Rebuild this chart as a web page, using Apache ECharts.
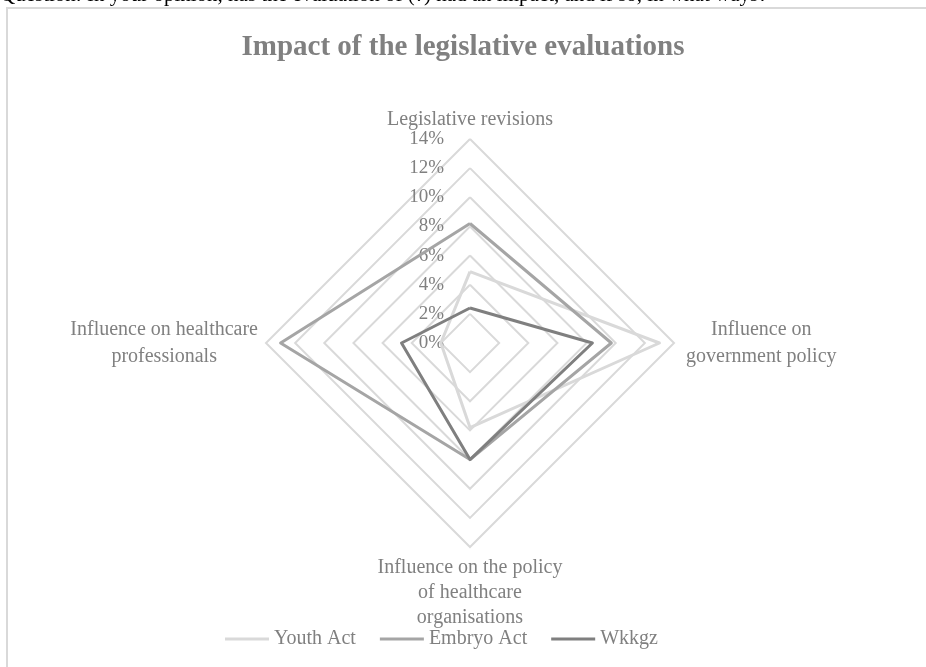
<!DOCTYPE html>
<html>
<head>
<meta charset="utf-8">
<script src="https://cdn.jsdelivr.net/npm/echarts@6/dist/echarts.min.js"></script>
<style>
html,body{margin:0;padding:0;background:#fff;}
#c{width:926px;height:667px;}
</style>
</head>
<body>
<div id="c"></div>
<script>
const indicators = [
  'Legislative revisions',
  'Influence on healthcare professionals',
  'Influence on the policy of healthcare organisations',
  'Influence on government policy'
];
const seriesNames = ['Youth Act', 'Embryo Act', 'Wkkgz'];
const youthAct = [4.9, 2.0, 5.8, 13.0];
const embryoAct = [8.2, 13.0, 8.0, 9.7];
const wkkgz = [2.4, 4.7, 8.0, 8.4];
const maxValue = 14;
const tickStep = 2;

const FONT = '"Liberation Serif", "DejaVu Serif", serif';
const GRAY = '#808080';

const chart = echarts.init(document.getElementById('c'));
const nameFormat = {
  'Legislative revisions': '{t|Legislative revisions}',
  'Influence on healthcare professionals': '{l|Influence on healthcare}\n{l|professionals}',
  'Influence on the policy of healthcare organisations': '{b|Influence on the policy}\n{b|of healthcare}\n{b|organisations}',
  'Influence on government policy': '{r|Influence on}\n{r|government policy}'
};
chart.setOption({
  animation: false,
  title: {
    text: 'Impact of the legislative evaluations',
    left: 'center',
    top: 28,
    textStyle: {fontFamily: FONT, fontSize: 29, fontWeight: 'bold', color: GRAY}
  },
  graphic: [
    {type: 'rect', shape: {x: 7, y: 8, width: 1000, height: 1000}, style: {fill: 'none', stroke: '#d9d9d9', lineWidth: 2}, silent: true},
    {type: 'text', left: 0, top: -15, style: {text: 'Question: In your opinion, has the evaluation of (?) had an impact, and if so, in what ways?', fontFamily: FONT, fontSize: 21, fill: '#000'}}
  ],
  legend: {
    data: seriesNames,
    bottom: 13,
    left: 220,
    itemWidth: 44,
    itemHeight: 3,
    itemGap: 24,
    icon: 'rect',
    textStyle: {fontFamily: FONT, fontSize: 20, color: GRAY, padding: [0, 0, 0, 0]}
  },
  radar: {
    center: [470, 343],
    radius: 204,
    startAngle: 90,
    shape: 'polygon',
    splitNumber: maxValue / tickStep,
    indicator: indicators.map((n, i) => {
      const o = {name: n, min: 0, max: maxValue};
      if (i === 0) {
        o.axisLabel = {show: true, formatter: v => v + '%', fontFamily: FONT, fontSize: 19, color: GRAY, margin: 26, padding: [5, 0, 0, 0]};
      }
      return o;
    }),
    nameGap: 8,
    axisName: {
      formatter: n => nameFormat[n],
      rich: {
        t: {fontFamily: FONT, fontSize: 20, color: GRAY, align: 'center'},
        l: {fontFamily: FONT, fontSize: 20, color: GRAY, align: 'center', lineHeight: 27},
        b: {fontFamily: FONT, fontSize: 20, color: GRAY, align: 'center', lineHeight: 25},
        r: {fontFamily: FONT, fontSize: 20, color: GRAY, align: 'center', lineHeight: 27, padding: [0, 0, 0, 4]}
      }
    },
    axisLine: {show: false},
    axisTick: {show: false},
    axisLabel: {show: false},
    splitArea: {show: false},
    splitLine: {lineStyle: {color: '#d9d9d9', width: 2}}
  },
  series: [{
    type: 'radar',
    symbol: 'none',
    data: [
      {name: seriesNames[0], value: youthAct, lineStyle: {color: '#d9d9d9', width: 3}, itemStyle: {color: '#d9d9d9'}},
      {name: seriesNames[1], value: embryoAct, lineStyle: {color: '#a5a5a5', width: 3}, itemStyle: {color: '#a5a5a5'}},
      {name: seriesNames[2], value: wkkgz, lineStyle: {color: '#7f7f7f', width: 3}, itemStyle: {color: '#7f7f7f'}}
    ]
  }]
});
</script>
</body>
</html>
